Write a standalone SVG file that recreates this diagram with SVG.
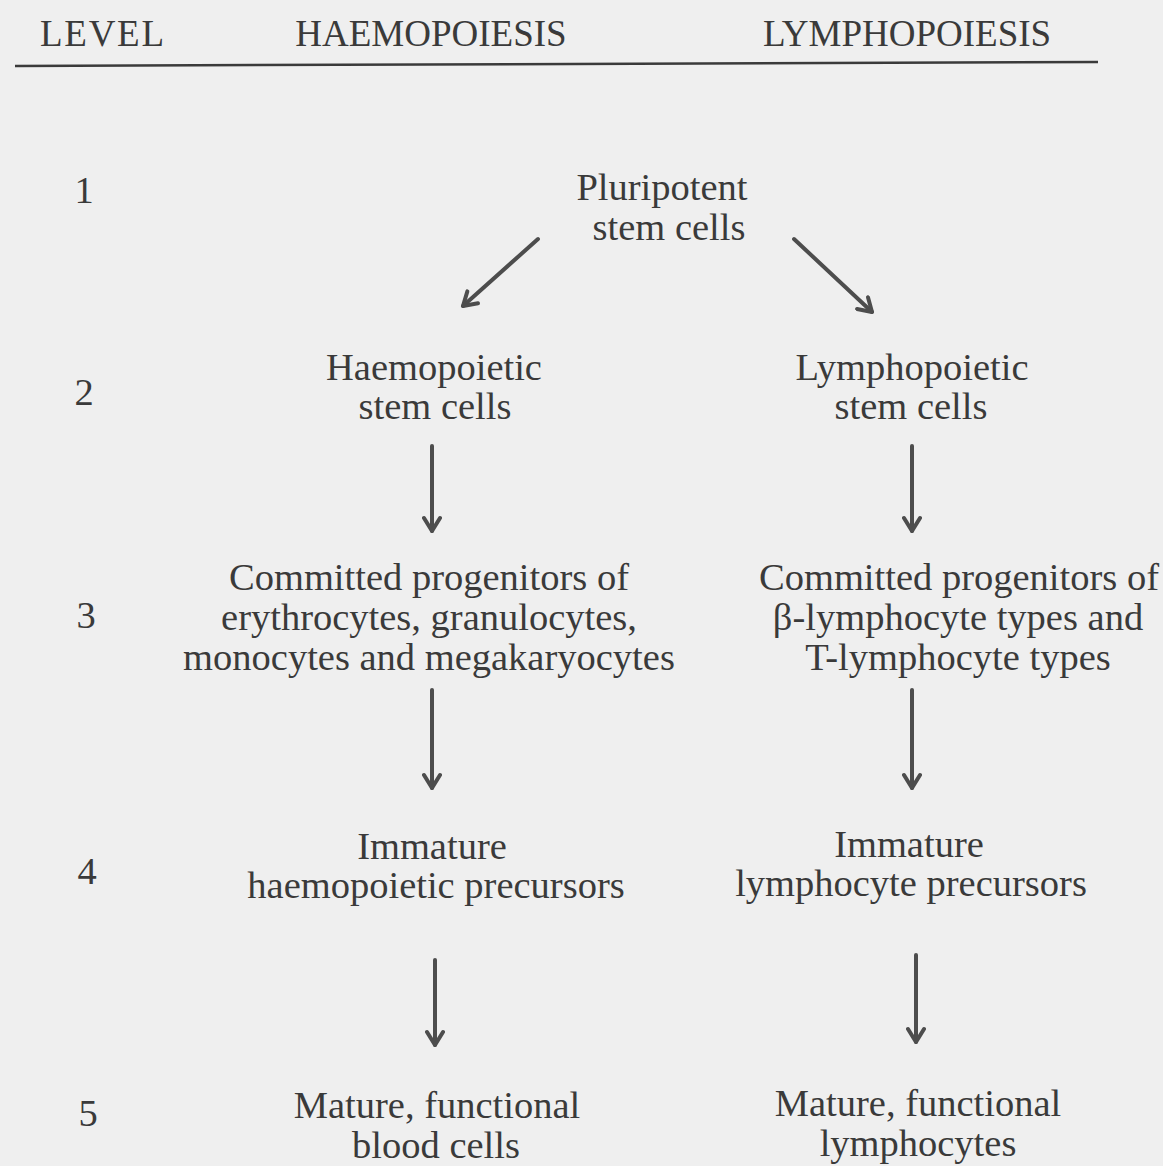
<svg xmlns="http://www.w3.org/2000/svg" width="1163" height="1166" viewBox="0 0 1163 1166">
<defs>
<style>
.t{font-family:"Liberation Serif","Times New Roman",serif;font-size:38.5px;fill:#3a3a3a;text-anchor:middle}
.h{font-size:37px}
.c{stroke:#4d4d4d;stroke-width:4;fill:none;stroke-linecap:round;stroke-linejoin:round}
</style>
<marker id="ah" viewBox="0 0 20 20" refX="16" refY="10" markerWidth="20" markerHeight="20" markerUnits="userSpaceOnUse" orient="auto">
<path d="M3,2 L16,10 L3,18" fill="none" stroke="#4d4d4d" stroke-width="4" stroke-linecap="round" stroke-linejoin="round"/>
</marker>
</defs>
<rect width="1163" height="1166" fill="#efefef"/>
<g id="header">
<text class="t h" x="102" y="46" textLength="124" lengthAdjust="spacing">LEVEL</text>
<text class="t h" x="431" y="46">HAEMOPOIESIS</text>
<text class="t h" x="907" y="46">LYMPHOPOIESIS</text>
<line x1="15" y1="66" x2="1098" y2="62" stroke="#3a3a3a" stroke-width="2.5"/>
</g>
<g id="levels">
<text class="t" x="84" y="203">1</text>
<text class="t" x="84" y="405">2</text>
<text class="t" x="86" y="628">3</text>
<text class="t" x="87" y="884">4</text>
<text class="t" x="88" y="1126">5</text>
</g>
<g id="node-pluripotent">
<text class="t" x="662" y="200">Pluripotent</text>
<text class="t" x="669" y="240">stem cells</text>
</g>
<g id="node-haemopoietic-stem">
<text class="t" x="434" y="380">Haemopoietic</text>
<text class="t" x="435" y="419">stem cells</text>
</g>
<g id="node-lymphopoietic-stem">
<text class="t" x="912" y="380">Lymphopoietic</text>
<text class="t" x="911" y="419">stem cells</text>
</g>
<g id="node-committed-haemo">
<text class="t" x="429" y="590">Committed progenitors of</text>
<text class="t" x="429" y="630">erythrocytes, granulocytes,</text>
<text class="t" x="429" y="670">monocytes and megakaryocytes</text>
</g>
<g id="node-committed-lympho">
<text class="t" x="959" y="590">Committed progenitors of</text>
<text class="t" x="958" y="630">β-lymphocyte types and</text>
<text class="t" x="958" y="670">T-lymphocyte types</text>
</g>
<g id="node-immature-haemo">
<text class="t" x="432" y="859">Immature</text>
<text class="t" x="436" y="898">haemopoietic precursors</text>
</g>
<g id="node-immature-lympho">
<text class="t" x="909" y="857">Immature</text>
<text class="t" x="911" y="896">lymphocyte precursors</text>
</g>
<g id="node-mature-haemo">
<text class="t" x="437" y="1118">Mature, functional</text>
<text class="t" x="436" y="1158">blood cells</text>
</g>
<g id="node-mature-lympho">
<text class="t" x="918" y="1116">Mature, functional</text>
<text class="t" x="918" y="1156">lymphocytes</text>
</g>
<g id="connectors">
<line class="c" x1="538" y1="239" x2="463" y2="306" marker-end="url(#ah)"/>
<line class="c" x1="794" y1="239" x2="872" y2="312" marker-end="url(#ah)"/>
<line class="c" x1="432" y1="446" x2="432" y2="531" marker-end="url(#ah)"/>
<line class="c" x1="912" y1="446" x2="912" y2="531" marker-end="url(#ah)"/>
<line class="c" x1="432" y1="690" x2="432" y2="788" marker-end="url(#ah)"/>
<line class="c" x1="912" y1="690" x2="912" y2="788" marker-end="url(#ah)"/>
<line class="c" x1="435" y1="960" x2="435" y2="1045" marker-end="url(#ah)"/>
<line class="c" x1="916" y1="955" x2="916" y2="1042" marker-end="url(#ah)"/>
</g>
</svg>
